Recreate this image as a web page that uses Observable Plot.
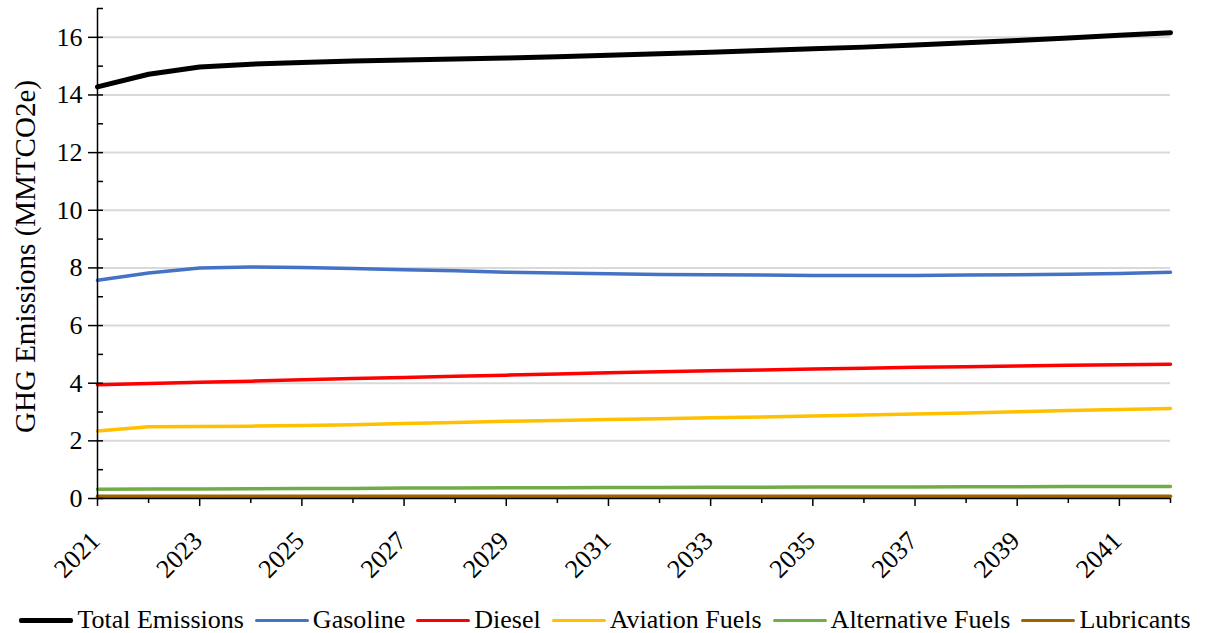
<!DOCTYPE html>
<html>
<head>
<meta charset="utf-8">
<script src="https://cdn.jsdelivr.net/npm/d3@7"></script>
<script src="https://cdn.jsdelivr.net/npm/@observablehq/plot@0.6"></script>
<style>
  body { margin: 0; background: #fff; font-family: "Liberation Serif", "Times New Roman", serif; }
  #legend { display: flex; justify-content: center; align-items: center; gap: 11px; height: 40px; margin-top: 7px; font-size: 26px; color: #000; }
  .item { display: flex; align-items: center; gap: 4px; }
  .sw { width: 54px; height: 0; border-top-style: solid; border-radius: 2px; }
  #chart svg g[aria-label="y-axis tick label"] text, #chart svg g[aria-label="x-axis tick label"] text { font-size: 26px; }
</style>
</head>
<body>
<div id="chart"></div>
<div id="legend"></div>
<script>
const years = d3.range(2021, 2043);
const seriesNames = ["Total Emissions", "Gasoline", "Diesel", "Aviation Fuels", "Alternative Fuels", "Lubricants"];
const seriesColors = ["#000000", "#4472C4", "#FF0000", "#FFC000", "#70AD47", "#9C6500"];
const seriesWidths = [5, 3.5, 3.5, 3.5, 3.5, 3.5];
const totalEmissions = [14.28, 14.72, 14.97, 15.07, 15.13, 15.18, 15.21, 15.25, 15.28, 15.33, 15.38, 15.43, 15.48, 15.54, 15.60, 15.66, 15.73, 15.81, 15.89, 15.98, 16.07, 16.16];
const gasoline = [7.57, 7.82, 8.00, 8.03, 8.01, 7.98, 7.94, 7.90, 7.85, 7.82, 7.80, 7.77, 7.76, 7.75, 7.74, 7.74, 7.74, 7.75, 7.76, 7.78, 7.81, 7.85];
const diesel = [3.95, 3.99, 4.03, 4.07, 4.12, 4.16, 4.20, 4.24, 4.28, 4.32, 4.36, 4.40, 4.43, 4.46, 4.49, 4.52, 4.55, 4.57, 4.60, 4.62, 4.64, 4.66];
const aviationFuels = [2.34, 2.49, 2.50, 2.51, 2.53, 2.56, 2.60, 2.64, 2.68, 2.71, 2.74, 2.77, 2.80, 2.83, 2.86, 2.90, 2.93, 2.97, 3.01, 3.05, 3.09, 3.12];
const alternativeFuels = [0.32, 0.33, 0.33, 0.34, 0.35, 0.35, 0.36, 0.36, 0.37, 0.37, 0.38, 0.38, 0.39, 0.39, 0.40, 0.40, 0.40, 0.41, 0.41, 0.42, 0.42, 0.42];
const lubricants = [0.08, 0.08, 0.08, 0.08, 0.08, 0.08, 0.08, 0.08, 0.08, 0.08, 0.08, 0.08, 0.08, 0.08, 0.08, 0.08, 0.08, 0.08, 0.08, 0.08, 0.08, 0.08];
const yTicks = [0, 2, 4, 6, 8, 10, 12, 14, 16];
const yMinorTicks = [1, 3, 5, 7, 9, 11, 13, 15, 17];
const xLabelYears = [2021, 2023, 2025, 2027, 2029, 2031, 2033, 2035, 2037, 2039, 2041];
const xMinorYears = [2022, 2024, 2026, 2028, 2030, 2032, 2034, 2036, 2038, 2040, 2042];
const yLabel = "GHG Emissions (MMTCO2e)";

const allValues = [totalEmissions, gasoline, diesel, aviationFuels, alternativeFuels, lubricants];
const rows = [];
seriesNames.forEach((name, i) => years.forEach((yr, j) => rows.push({series: name, year: yr, value: allValues[i][j]})));

const order = [5, 4, 3, 2, 1, 0];

const marks = [
  Plot.ruleY(yTicks.filter(d => d > 0), {stroke: "#d9d9d9", strokeWidth: 2}),
  ...order.map(i => Plot.line(rows.filter(r => r.series === seriesNames[i]), {
    x: "year", y: "value", stroke: seriesColors[i], strokeWidth: seriesWidths[i], curve: "linear", strokeLinejoin: "round"
  })),
  Plot.ruleY([0], {stroke: "#000", strokeWidth: 1.5}),
  Plot.ruleX([2021], {stroke: "#000", strokeWidth: 1.5}),
  Plot.axisY({ticks: yTicks, tickSize: 9, tickPadding: 6, label: null, fontSize: 26, strokeWidth: 1.5}),
  Plot.axisY({ticks: yTicks.concat(yMinorTicks), tickSize: -6, text: null, label: null, strokeWidth: 1.5}),
  Plot.axisX({ticks: xLabelYears, tickSize: 8, text: null, label: null, strokeWidth: 1.5}),
  Plot.axisX({ticks: xLabelYears, tickSize: 0, tickFormat: d => String(d), tickRotate: -45, tickPadding: 38, dx: -2, label: null, fontSize: 26}),
  Plot.axisX({ticks: xMinorYears, tickSize: 5, text: null, label: null, strokeWidth: 1.5}),
  Plot.text([yLabel], {frameAnchor: "left", textAnchor: "middle", rotate: -90, dx: -72, dy: 3, fontSize: 29, fill: "#000"})
];

const chart = Plot.plot({
  width: 1210,
  height: 593,
  marginLeft: 97,
  marginRight: 40,
  marginTop: 8,
  marginBottom: 95,
  x: {domain: [2021, 2042]},
  y: {domain: [0, 17]},
  style: {fontFamily: "'Liberation Serif', 'Times New Roman', serif", fontSize: "26px", color: "#000", background: "#fff"},
  marks
});
document.getElementById("chart").appendChild(chart);

const legend = document.getElementById("legend");
seriesNames.forEach((name, i) => {
  const item = document.createElement("div");
  item.className = "item";
  const sw = document.createElement("div");
  sw.className = "sw";
  sw.style.borderTopColor = seriesColors[i];
  sw.style.borderTopWidth = seriesWidths[i] + "px";
  const t = document.createElement("span");
  t.textContent = name;
  item.appendChild(sw);
  item.appendChild(t);
  legend.appendChild(item);
});
</script>
</body>
</html>
